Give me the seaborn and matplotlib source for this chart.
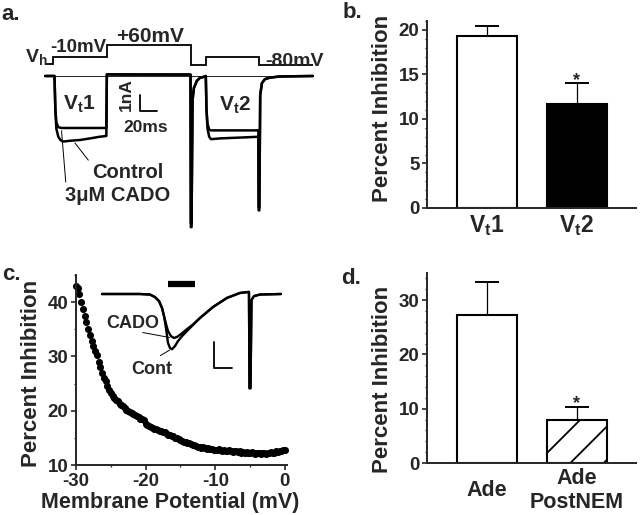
import matplotlib

matplotlib.use("Agg")
import matplotlib.pyplot as plt  # noqa: E402
import numpy as np  # noqa: E402
import seaborn as sns  # noqa: E402
from matplotlib.ticker import MultipleLocator  # noqa: E402

# ---- panel a: voltage protocol (schematic step levels, mV) ----
protocol_edges_ms = [-11, -1.5, 62, 160, 178, 240.6, 304]
protocol_levels_mv = [-51, -10, 60, -57, -10, -57]

# ---- panel a: current traces (ms, nA) ----
control_t = [-11, 0, 1.0, 2.2, 4.5, 7, 10, 18, 30, 42,
             53, 61, 61.6, 77, 112, 160, 160.4, 161.2, 162.4, 164,
             167.5, 171, 177, 178, 178.8, 180, 182, 184, 195, 218,
             239.8, 240.2, 241, 242, 244, 247.5, 253.5, 265, 304]
control_na = [0, 0, -2.1, -3.3, -3.8, -4.0, -4.1, -4.05, -4.0, -3.9,
              -3.8, -3.75, 0.1, 0.09, 0.09, 0.09, -9.45, -9.45, -1.5, -0.75,
              -0.3, -0.12, -0.03, 0, -2.1, -3.3, -3.8, -3.95, -3.9, -3.85,
              -3.8, -8.4, -8.4, -1.2, -0.45, -0.2, -0.1, -0.03, 0]
cado_t = [-11, 0, 1.0, 2.2, 4.5, 8, 20, 40, 61, 61.6,
          160, 160.4, 161.2, 162.4, 164, 167.5, 171, 177, 178, 178.8,
          180, 182, 184, 239.8, 240.2, 241, 242, 244, 247.5, 253.5,
          265, 304]
cado_na = [0, 0, -2.1, -2.9, -3.2, -3.25, -3.25, -3.25, -3.25, 0.1,
           0.09, -9.2, -9.2, -1.5, -0.75, -0.3, -0.12, -0.03, 0, -2.1,
           -3.0, -3.35, -3.4, -3.4, -8.2, -8.2, -1.2, -0.45, -0.2, -0.1,
           -0.03, 0]

# ---- panel b ----
b_names = ["V$_\\mathrm{t}$1", "V$_\\mathrm{t}$2"]
b_means = [19.3, 11.7]
b_sem = [1.1, 2.3]

# ---- panel c: inhibition vs membrane potential ----
membrane_mv = np.arange(-30, 0.01, 0.25)
inhibition_pct = [
    43.0, 42.6, 41.5, 40.0, 38.8, 37.5, 36.4, 35.0,
    34.0, 32.8, 31.9, 31.0, 30.2, 29.0, 28.0, 27.0,
    26.1, 25.4, 24.5, 23.8, 23.2, 22.8, 22.3, 22.0,
    21.7, 21.3, 21.0, 20.8, 20.5, 20.2, 20.0, 19.8,
    19.6, 19.4, 19.2, 19.0, 18.8, 18.5, 18.4, 18.2,
    17.6, 17.3, 17.1, 17.0, 16.8, 16.7, 16.6, 16.4,
    16.3, 16.2, 16.0, 16.0, 15.8, 15.6, 15.5, 15.3,
    15.3, 15.0, 14.9, 14.7, 14.6, 14.5, 14.3, 14.2,
    14.1, 14.0, 13.8, 13.7, 13.6, 13.5, 13.4, 13.4,
    13.2, 13.3, 13.1, 13.0, 13.1, 12.9, 12.9, 12.8,
    12.8, 12.7, 12.9, 12.7, 12.6, 12.7, 12.6, 12.5,
    12.7, 12.5, 12.4, 12.6, 12.5, 12.4, 12.5, 12.3,
    12.4, 12.2, 12.4, 12.3, 12.2, 12.4, 12.2, 12.1,
    12.3, 12.2, 12.0, 12.2, 12.3, 12.1, 12.3, 12.2,
    12.4, 12.3, 12.3, 12.5, 12.4, 12.6, 12.5, 12.7,
    12.8,
]

# ---- panel c inset: ramp currents (ms, nA) ----
inset_cont_t = [0, 42, 53.3, 58.9, 63.3, 66.7, 68.9, 71.1, 73.3, 75.6,
                77.8, 81.1, 84.4, 88.9, 94.4, 101.1, 108.9, 123.3, 138.9, 153.3,
                163.3, 163.9, 165, 166.1, 168.9, 175.6, 198.9]
inset_cont_na = [0, 0, -0.02, -0.12, -0.27, -0.54, -0.85, -1.31, -1.88, -2.08,
                 -2.12, -2.0, -1.81, -1.62, -1.42, -1.19, -0.92, -0.5, -0.15, 0.04,
                 0.08, -3.62, -3.62, -0.23, -0.08, -0.02, 0]
inset_cado_t = [0, 42, 53.3, 58.9, 63.3, 66.7, 68.9, 71.1, 73.3, 76.7,
                80, 83.3, 87.8, 93.3, 101.1, 108.9, 123.3, 138.9, 153.3, 163.3,
                163.9, 165, 166.1, 168.9, 175.6, 198.9]
inset_cado_na = [0, 0, -0.02, -0.12, -0.27, -0.54, -0.85, -1.15, -1.42, -1.62,
                 -1.69, -1.65, -1.54, -1.38, -1.17, -0.92, -0.5, -0.15, 0.04, 0.08,
                 -3.62, -3.62, -0.23, -0.08, -0.02, 0]
inset_window_ms = [73.3, 103.3]

# ---- panel d ----
d_names = ["Ade", "Ade\nPostNEM"]
d_means = [27.3, 7.9]
d_sem = [6.0, 2.4]

sns.set_style("ticks")
plt.rcParams["font.family"] = ["Liberation Sans", "DejaVu Sans"]
plt.rcParams["font.weight"] = "bold"
plt.rcParams["axes.labelweight"] = "bold"
plt.rcParams["axes.unicode_minus"] = False
plt.rcParams["mathtext.fontset"] = "custom"
plt.rcParams["mathtext.rm"] = "Liberation Sans:bold"
plt.rcParams["mathtext.it"] = "Liberation Sans:bold"
plt.rcParams["mathtext.bf"] = "Liberation Sans:bold"
plt.rcParams["hatch.linewidth"] = 1.3

W, H = 640, 515
fig = plt.figure(figsize=(W / 100, H / 100), dpi=100)


def box(l, t, r, b):
    return [l / W, 1 - b / H, (r - l) / W, (b - t) / H]


def label(x, y, s, size=13, **kw):
    fig.text(x / W, 1 - y / H, s, fontsize=size, fontweight="bold",
             ha="center", va="center", **kw)


def style_axis(ax, major, minor):
    sns.despine(ax=ax)
    for side in ("left", "bottom"):
        ax.spines[side].set_linewidth(1.4)
    ax.yaxis.set_major_locator(MultipleLocator(major))
    ax.yaxis.set_minor_locator(MultipleLocator(minor))
    ax.tick_params(axis="y", which="major", length=3.5, width=1.2,
                   labelsize=13.5, pad=2)
    ax.tick_params(axis="y", which="minor", length=1.5, width=0.9)


def bar_panel(rect, names, means, sem, colors, hatches, ymax, major, minor, star_gap):
    ax = fig.add_axes(rect)
    sns.barplot(x=names, y=means, hue=names, palette=colors, legend=False,
                saturation=1, width=0.667, edgecolor="black", linewidth=1.5,
                ax=ax)
    for patch, h in zip(ax.patches, hatches):
        patch.set_hatch(h)
    ax.errorbar(range(len(names)), means, yerr=[np.zeros(len(sem)), sem],
                fmt="none", ecolor="black", elinewidth=0.9, capsize=8.6,
                capthick=1.4)
    top = means[1] + sem[1]
    ax.text(1, top + star_gap, "*", ha="center", va="center", fontsize=13)
    ax.set_xlim(-0.667, 1.656)
    ax.set_ylim(0, ymax)
    style_axis(ax, major, minor)
    ax.tick_params(axis="x", length=0, labelsize=16.5, pad=4)
    ax.set_xlabel("")
    return ax


# ---- panel a ----
t_lim = (-17.06, 312.35)
ax_v = fig.add_axes(box(40, 35, 320, 75))
ax_v.stairs(protocol_levels_mv, protocol_edges_ms, baseline=None,
            color="black", linewidth=1.3)
ax_v.set_xlim(*t_lim)
ax_v.set_ylim(-115, 118.3)
ax_v.axis("off")

ax_a = fig.add_axes(box(40, 66, 320, 235))
ax_a.plot([protocol_edges_ms[0], protocol_edges_ms[-1]], [0, 0],
          color="black", linewidth=0.6)
ax_a.plot(control_t, control_na, color="black", linewidth=1.8)
ax_a.plot(cado_t, cado_na, color="black", linewidth=1.8)
scale_t0, scale_i0 = 100.6, -2.19
ax_a.plot([scale_t0, scale_t0, scale_t0 + 20], [scale_i0 + 1, scale_i0, scale_i0],
          color="black", linewidth=1.3)
ax_a.annotate("", xy=(22, -4.05), xytext=(41.8, -5.4),
              arrowprops=dict(arrowstyle="-", color="black", lw=0.7))
ax_a.annotate("", xy=(8, -3.25), xytext=(13.5, -6.8),
              arrowprops=dict(arrowstyle="-", color="black", lw=0.7))
ax_a.set_xlim(*t_lim)
ax_a.set_ylim(-9.94, 0.625)
ax_a.axis("off")

label(11, 14, "a.", 16)
label(36, 57, "V$_\\mathrm{h}$", 14)
label(78, 48, "-10mV", 13.5)
label(150, 36, "+60mV", 15)
label(295, 61, "-80mV", 14)
label(79, 104, "V$_\\mathrm{t}$1", 15)
label(235, 105, "V$_\\mathrm{t}$2", 15)
label(126, 95, "1nA", 12.5, rotation=90)
label(146, 128, "20ms", 12.5)
label(128, 173, "Control", 14.5)
label(118, 196, "3\u03bcM CADO", 14.5)

# ---- panel b ----
ax_b = bar_panel(box(427, 21, 636, 208), b_names, b_means, b_sem,
                 ["white", "black"], ["", ""], 21, 5, 1, 0.35)
ax_b.set_ylabel("Percent Inhibition", fontsize=16)
ax_b.yaxis.set_label_coords(-0.165, 0.535)
label(352, 13, "b.", 16)

# ---- panel c ----
ax_c = fig.add_axes(box(76, 275, 287, 465))
sns.scatterplot(x=membrane_mv, y=inhibition_pct, color="black", s=26,
                linewidth=0, clip_on=False, ax=ax_c)
ax_c.set_xlim(-30, 0.3)
ax_c.set_ylim(10, 45)
style_axis(ax_c, 10, 5)
ax_c.xaxis.set_major_locator(MultipleLocator(10))
ax_c.xaxis.set_minor_locator(MultipleLocator(5))
ax_c.tick_params(axis="x", which="major", length=3.5, width=1.2,
                 labelsize=13.5, pad=2)
ax_c.tick_params(axis="x", which="minor", length=1.5, width=0.9)
ax_c.set_xlabel("Membrane Potential (mV)", fontsize=15.5)
ax_c.set_ylabel("Percent Inhibition", fontsize=16)
ax_c.xaxis.set_label_coords(0.448, -0.14)
ax_c.yaxis.set_label_coords(-0.16, 0.48)
label(11, 274, "c.", 16)

ax_in = fig.add_axes(box(95, 275, 290, 395))
ax_in.patch.set_alpha(0)
ax_in.plot(inset_cont_t, inset_cont_na, color="black", linewidth=1.7)
ax_in.plot(inset_cado_t, inset_cado_na, color="black", linewidth=1.7)
ax_in.plot(inset_window_ms, [0.385, 0.385], color="black", linewidth=4.5,
           solid_capstyle="butt")
ax_in.plot([124.4, 124.4, 144.4], [-1.85, -2.85, -2.85], color="black",
           linewidth=1.3)
ax_in.annotate("", xy=(78, -1.69), xytext=(42.2, -1.46),
               arrowprops=dict(arrowstyle="-", color="black", lw=0.7))
ax_in.annotate("", xy=(77.8, -2.1), xytext=(62.2, -2.42),
               arrowprops=dict(arrowstyle="-", color="black", lw=0.7))
ax_in.set_xlim(-7.8, 208.9)
ax_in.set_ylim(-3.88, 0.73)
ax_in.axis("off")
label(133, 324, "CADO", 13)
label(152, 370, "Cont", 13)

# ---- panel d ----
ax_d = bar_panel(box(427, 273, 636, 463), d_names, d_means, d_sem,
                 ["white", "white"], ["", "/"], 35, 10, 2, 0.6)
ax_d.set_ylabel("Percent Inhibition", fontsize=16)
ax_d.yaxis.set_label_coords(-0.165, 0.44)
ax_d.tick_params(axis="x", labelsize=15.5, pad=20)
for tl in ax_d.get_xticklabels():
    tl.set_va("center")
label(351, 278, "d.", 16)

fig.savefig("out.png", dpi=100)
